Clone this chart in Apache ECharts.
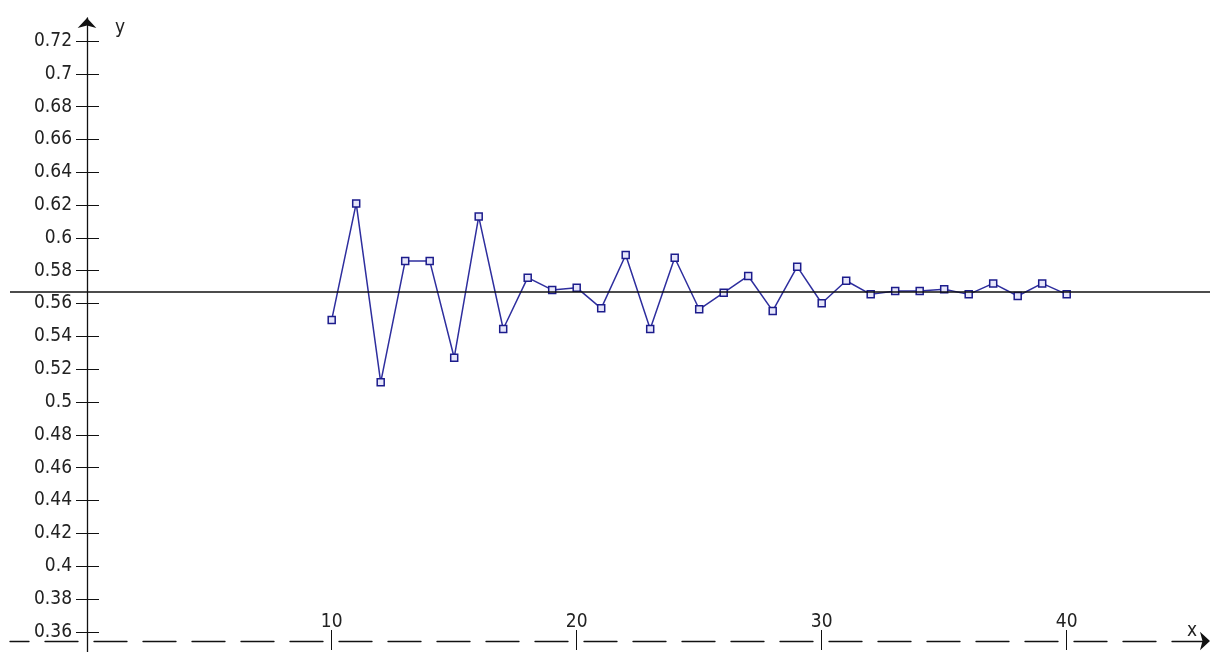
<!DOCTYPE html>
<html>
<head>
<meta charset="utf-8">
<script src="https://cdn.jsdelivr.net/npm/echarts@6/dist/echarts.min.js"></script>
<style>
  html, body { margin: 0; padding: 0; background: #fff; }
  #chart { width: 1210px; height: 652px; }
</style>
</head>
<body>
<div id="chart"></div>
<script>
// iteration x = 10..40, oscillating round the limit
const xs = [10, 11, 12, 13, 14, 15, 16, 17, 18, 19, 20, 21, 22, 23, 24, 25,
    26, 27, 28, 29, 30, 31, 32, 33, 34, 35, 36, 37, 38, 39, 40];
const ys = [0.550, 0.621, 0.512, 0.586, 0.586, 0.527, 0.613, 0.5445, 0.5758, 0.5683,
    0.5697, 0.5571, 0.5896, 0.5445, 0.5879, 0.5565, 0.5666, 0.5768, 0.5555, 0.5825,
    0.5602, 0.5739, 0.5656, 0.5676, 0.5676, 0.5687, 0.5656, 0.5723, 0.5646, 0.5723, 0.5656];
const limitY = 0.5672;

const xTicks = [10, 20, 30, 40];
const yTicks = [0.36, 0.38, 0.4, 0.42, 0.44, 0.46, 0.48, 0.5, 0.52, 0.54, 0.56,
    0.58, 0.6, 0.62, 0.64, 0.66, 0.68, 0.7, 0.72];

const xMin = -3.1306, xMax = 45.849;
const yMin = 0.34766, yMax = 0.73402;

const font = "'DejaVu Sans Condensed', 'Liberation Sans', sans-serif";
const ink = '#111';

const chart = echarts.init(document.getElementById('chart'));

const xBase = {
    type: 'value', min: xMin, max: xMax, position: 'bottom', offset: -11,
    splitLine: { show: false },
};
const yBase = {
    type: 'value', min: yMin, max: yMax, position: 'left', offset: -77,
    splitLine: { show: false },
};

chart.setOption({
    animation: false,
    grid: { left: 10, right: 0, top: 18, bottom: 0, containLabel: false },
    xAxis: [
        Object.assign({}, xBase, {
            axisLine: {
                show: true, onZero: false,
                symbol: ['none', 'arrow'], symbolSize: [14, 10],
                lineStyle: { color: ink, width: 1.3, type: [33, 16], dashOffset: 14 },
            },
            axisTick: { show: true, inside: false, length: 9, customValues: xTicks, lineStyle: { color: ink } },
            axisLabel: {
                show: true, inside: true, margin: 9, customValues: xTicks,
                fontFamily: font, fontSize: 19, color: '#222',
            },
        }),
        Object.assign({}, xBase, {
            axisLine: { show: false },
            axisTick: { show: true, inside: true, length: 11, customValues: xTicks, lineStyle: { color: ink } },
            axisLabel: { show: false },
        }),
    ],
    yAxis: [
        Object.assign({}, yBase, {
            axisLine: {
                show: true, onZero: false,
                symbol: ['none', 'arrow'], symbolSize: [14, 10],
                lineStyle: { color: ink, width: 1.3 },
            },
            axisTick: { show: true, inside: false, length: 11, customValues: yTicks, lineStyle: { color: ink } },
            axisLabel: {
                show: true, margin: 15, customValues: yTicks,
                fontFamily: font, fontSize: 19, color: '#222',
            },
        }),
        Object.assign({}, yBase, {
            axisLine: { show: false },
            axisTick: { show: true, inside: true, length: 12, customValues: yTicks, lineStyle: { color: ink } },
            axisLabel: { show: false },
        }),
    ],
    graphic: [
        { type: 'text', left: 115, top: 19, style: { text: 'y', font: '19px ' + font, fill: '#222' } },
        { type: 'text', left: 1187, top: 622, style: { text: 'x', font: '19px ' + font, fill: '#222' } },
    ],
    series: [
        {
            type: 'line',
            data: xs.map((x, i) => [x, ys[i]]),
            z: 3,
            symbol: 'rect',
            symbolSize: 7,
            showAllSymbol: true,
            lineStyle: { color: '#2e2e9e', width: 1.5 },
            itemStyle: { color: '#e6e6fa', borderColor: '#1c1c8c', borderWidth: 1.5 },
            markLine: {
                silent: true,
                precision: 5,
                symbol: ['none', 'none'],
                label: { show: false },
                lineStyle: { color: ink, width: 1.5, type: 'solid' },
                data: [{ yAxis: limitY }],
            },
        },
    ],
}, true);
</script>
</body>
</html>
